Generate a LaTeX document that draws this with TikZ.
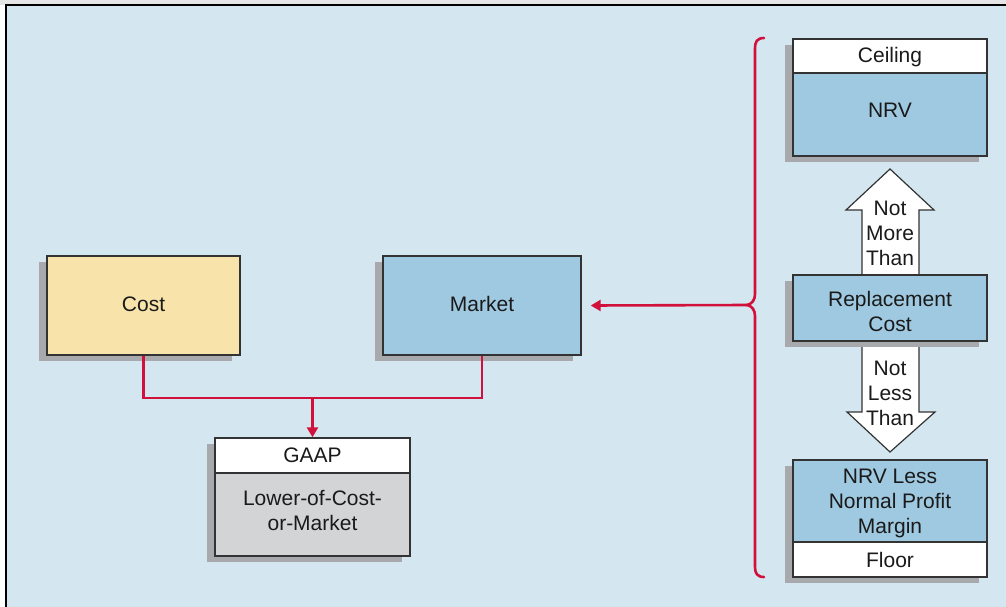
\documentclass[tikz,border=0pt]{standalone}
\usepackage{fontspec}
\setmainfont{Liberation Sans}
\usetikzlibrary{arrows.meta,shadows,calc}
\definecolor{bg}{HTML}{D4E6F0}
\definecolor{bluebox}{HTML}{9FC9E0}
\definecolor{yellowbox}{HTML}{F8E4AB}
\definecolor{graybox}{HTML}{D3D4D6}
\definecolor{shd}{HTML}{A7A9AC}
\definecolor{redline}{HTML}{D2103C}
\definecolor{edge}{HTML}{333333}
\definecolor{txt}{HTML}{1A1A1A}
\begin{document}
\begin{tikzpicture}[x=1pt,y=-1pt,
  box/.style={draw=edge, line width=1.4pt, rectangle, inner sep=0pt, text=txt,
    align=center, font=\fontsize{21}{25}\selectfont,
    general shadow={fill=shd, shadow xshift=-8pt, shadow yshift=-6pt}},
  lbl/.style={text=txt, align=center, inner sep=0pt, font=\fontsize{21}{25}\selectfont},
  conn/.style={draw=redline, line width=2.6pt, line join=miter},
  connarrow/.style={conn, -{Triangle[width=11pt,length=10pt]}},
  blockarrow/.style={fill=white, draw=edge, line width=1.2pt, line join=miter}]
\useasboundingbox (0,0) rectangle (1006,607);
% frame
\fill[gray!20] (0,0) rectangle (1006,5);
\fill[bg] (6,5) rectangle (1006,607);
\draw[black, line width=2pt] (6,607) -- (6,5) -- (1006,5);

% left side boxes
\node[box, fill=yellowbox, minimum width=193pt, minimum height=99pt] (cost) at (143.5,305.5) {};
\node[lbl] (costtext) at (143.5,304) {Cost};
\node[box, fill=bluebox, minimum width=198pt, minimum height=99pt] (market) at (482,305.5) {};
\node[lbl] (markettext) at (482,304) {Market};
\node[box, fill=white, minimum width=195pt, minimum height=35pt] (gaap) at (312.5,455.5) {GAAP};
\node[box, fill=graybox, minimum width=195pt, minimum height=83pt] (lcm) at (312.5,514.5) {};
\node[lbl] (lcmtext) at (312.5,510.5) {Lower-of-Cost-\\or-Market};

% connectors
\coordinate (jn) at (312.5,398);
\draw[conn] (cost.south) |- (jn) -| (market.south);
\draw[connarrow] (jn) -- (gaap.north);

% block arrows
\path[blockarrow] (862,276) -- (862,210) -- (846,210) -- (890,169) -- (934,210) -- (919,210) -- (919,276);
\node[lbl] (nmt) at (890,233) {Not\\More\\Than};
\path[blockarrow] (862,340) -- (862,412) -- (847,412) -- (890,452) -- (935,412) -- (919,412) -- (919,340);
\node[lbl] (nlt) at (890,393) {Not\\Less\\Than};

% right side boxes
\node[box, fill=white, minimum width=194pt, minimum height=34pt] (ceiling) at (890,56) {};
\node[lbl] (ceiltext) at (890,57) {Ceiling};
\node[box, fill=bluebox, minimum width=194pt, minimum height=83pt] (nrv) at (890,114.5) {};
\node[lbl] (nrvtext) at (890,110) {NRV};
\node[box, fill=bluebox, minimum width=194pt, minimum height=66pt] (repl) at (890,308) {};
\node[lbl] (repltext) at (890,311) {Replacement\\Cost};
\node[box, fill=bluebox, minimum width=194pt, minimum height=82pt] (nrvless) at (890,501) {};
\node[lbl] (nrvlesstext) at (890,503.5) {NRV Less\\Normal Profit\\Margin};
\node[box, fill=white, minimum width=194pt, minimum height=35pt] (floor) at (890,559.5) {Floor};

% brace
\coordinate (btip) at (747,305);
\draw[conn, line cap=round] (764,38) .. controls (757,38) and (755,42) .. (755,48) -- (755,294)
  .. controls (755,300) and (752,304) .. (btip)
  .. controls (752,306) and (755,310) .. (755,316) -- (755,567)
  .. controls (755,573) and (757,577) .. (764,577);
\draw[connarrow] (btip) -- ($(market.east)+(9,0)$);
\end{tikzpicture}
\end{document}
